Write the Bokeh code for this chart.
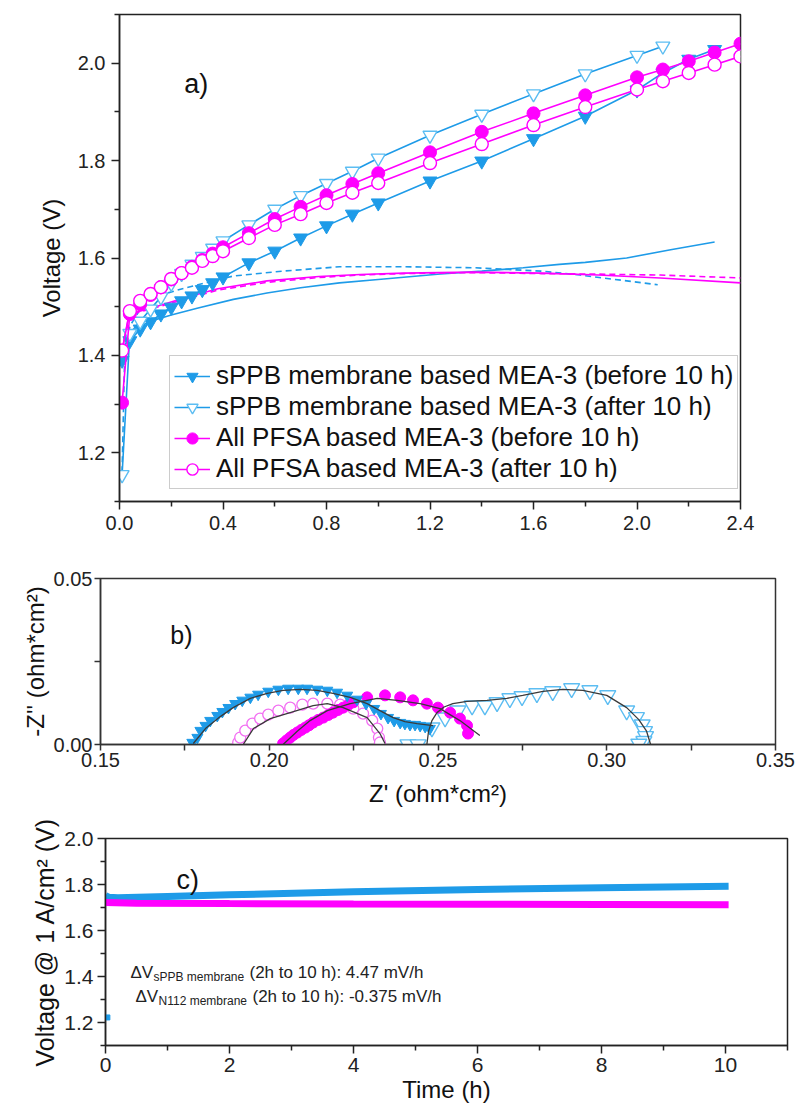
from bokeh.plotting import figure
from bokeh.models import Range1d, FixedTicker, PrintfTickFormatter, Legend, LegendItem, Label
from bokeh.embed import file_html
from bokeh.resources import INLINE

FONT = "Liberation Sans"
BLUE = "#1E9BE8"
LBLUE = "#5CBDF2"
MAG = "#FF00FF"
PINK = "#F26EF2"
FIT = "#3A3A3A"

# ---------------- panel a: polarisation curves ----------------
cur_sppb_before = [0.01, 0.04, 0.08, 0.12, 0.16, 0.2, 0.24, 0.28, 0.32, 0.36, 0.4, 0.5, 0.6, 0.7, 0.8, 0.9, 1.0,
                   1.2, 1.4, 1.6, 1.8, 2.0, 2.1, 2.2, 2.3]
v_sppb_before = [1.39, 1.43, 1.454, 1.469, 1.485, 1.499, 1.512, 1.522, 1.535, 1.549, 1.561, 1.59, 1.614, 1.641,
                 1.666, 1.69, 1.713, 1.758, 1.799, 1.845, 1.891, 1.945, 1.98, 2.008, 2.028]
cur_sppb_after = [0.01, 0.04, 0.08, 0.12, 0.16, 0.2, 0.24, 0.28, 0.32, 0.36, 0.4, 0.5, 0.6, 0.7, 0.8, 0.9, 1.0,
                  1.2, 1.4, 1.6, 1.8, 2.0, 2.1]
v_sppb_after = [1.155, 1.445, 1.47, 1.495, 1.52, 1.548, 1.568, 1.587, 1.603, 1.62, 1.635, 1.668, 1.70, 1.728,
                1.753, 1.778, 1.805, 1.852, 1.895, 1.937, 1.978, 2.016, 2.035]
cur_pfsa = [0.01, 0.04, 0.08, 0.12, 0.16, 0.2, 0.24, 0.28, 0.32, 0.36, 0.4, 0.5, 0.6, 0.7, 0.8, 0.9, 1.0,
            1.2, 1.4, 1.6, 1.8, 2.0, 2.1, 2.2, 2.3, 2.4]
v_pfsa_before = [1.303, 1.485, 1.505, 1.524, 1.54, 1.556, 1.569, 1.582, 1.596, 1.609, 1.622, 1.651, 1.68, 1.705,
                 1.729, 1.752, 1.774, 1.817, 1.859, 1.897, 1.934, 1.971, 1.987, 2.004, 2.022, 2.04]
v_pfsa_after = [1.41, 1.491, 1.512, 1.526, 1.54, 1.557, 1.569, 1.58, 1.594, 1.604, 1.614, 1.641, 1.668, 1.69,
                1.713, 1.734, 1.754, 1.795, 1.834, 1.873, 1.91, 1.946, 1.963, 1.98, 1.997, 2.014]

# corrected curves (lines without markers)
cur_corr_sppb_before = [0.01, 0.02, 0.04, 0.08, 0.12, 0.2, 0.3, 0.44, 0.57, 0.7, 0.85, 1.0, 1.24, 1.4, 1.56,
                        1.7, 1.8, 1.96, 2.13, 2.3]
v_corr_sppb_before = [1.39, 1.42, 1.44, 1.46, 1.47, 1.483, 1.497, 1.515, 1.528, 1.539, 1.549, 1.556, 1.567,
                      1.573, 1.58, 1.587, 1.591, 1.60, 1.617, 1.633]
cur_corr_sppb_after = [0.01, 0.02, 0.04, 0.08, 0.12, 0.25, 0.44, 0.63, 0.85, 1.1, 1.37, 1.63, 1.78, 1.9, 2.08]
v_corr_sppb_after = [1.16, 1.40, 1.46, 1.495, 1.518, 1.538, 1.563, 1.573, 1.582, 1.582, 1.58, 1.573, 1.565,
                     1.557, 1.545]
cur_corr_pfsa_before = [0.01, 0.035, 0.06, 0.12, 0.25, 0.38, 0.57, 0.77, 0.93, 1.1, 1.37, 1.63, 1.85, 2.09, 2.4]
v_corr_pfsa_before = [1.41, 1.48, 1.488, 1.497, 1.518, 1.537, 1.553, 1.562, 1.566, 1.569, 1.571, 1.569, 1.565,
                      1.559, 1.549]
cur_corr_pfsa_after = [0.01, 0.04, 0.08, 0.12, 0.25, 0.38, 0.57, 0.77, 0.93, 1.1, 1.37, 1.63, 1.83, 2.09, 2.4]
v_corr_pfsa_after = [1.41, 1.482, 1.49, 1.495, 1.515, 1.534, 1.55, 1.56, 1.565, 1.568, 1.57, 1.568, 1.567,
                     1.565, 1.559]

a_xticks = [0.0, 0.4, 0.8, 1.2, 1.6, 2.0, 2.4]
a_xminor = [0.2, 0.6, 1.0, 1.4, 1.8, 2.2]
a_yticks = [1.2, 1.4, 1.6, 1.8, 2.0]
a_yminor = [1.1, 1.3, 1.5, 1.7, 1.9, 2.1]
legend_labels = ["sPPB membrane based MEA-3 (before 10 h)",
                 "sPPB membrane based MEA-3 (after 10 h)",
                 "All PFSA based MEA-3 (before 10 h)",
                 "All PFSA based MEA-3 (after 10 h)"]

# ---------------- panel b: Nyquist plots ----------------
zr_sppb_before = [0.1772, 0.1787, 0.1796, 0.1811, 0.1825, 0.1846, 0.1861, 0.1879, 0.1899, 0.192, 0.1944, 0.1967,
                  0.1997, 0.2027, 0.2056, 0.2086, 0.2112, 0.2142, 0.2172, 0.2201, 0.2231, 0.226, 0.2287, 0.2311,
                  0.2331, 0.2352, 0.237, 0.2388, 0.2402, 0.2417, 0.2432, 0.2447, 0.2462, 0.2476]
zi_sppb_before = [0.0006, 0.0021, 0.0042, 0.0057, 0.0072, 0.0087, 0.0099, 0.0111, 0.0123, 0.0133, 0.0142, 0.0151,
                  0.016, 0.0166, 0.0169, 0.0169, 0.0169, 0.0166, 0.0163, 0.0157, 0.0148, 0.0136, 0.0123, 0.0108,
                  0.0093, 0.0081, 0.0072, 0.0066, 0.0063, 0.006, 0.006, 0.0057, 0.0054, 0.0048]
zr_sppb_before_fit = [0.1775, 0.1811, 0.1855, 0.1893, 0.1944, 0.1994, 0.2041, 0.2092, 0.2142, 0.2189, 0.224,
                      0.229, 0.2328, 0.2367, 0.2402, 0.2438, 0.2485]
zi_sppb_before_fit = [0.0003, 0.0048, 0.0084, 0.0111, 0.0139, 0.0154, 0.0163, 0.0166, 0.0163, 0.0154, 0.0142,
                      0.0123, 0.0102, 0.0081, 0.0069, 0.0063, 0.0057]
zr_sppb_after = [0.2411, 0.2441, 0.2482, 0.2521, 0.2559, 0.2601, 0.2639, 0.2675, 0.2713, 0.2749, 0.2793, 0.284,
                 0.2896, 0.295, 0.3003, 0.3059, 0.3088, 0.3105, 0.3112, 0.3115, 0.311, 0.3095]
zi_sppb_after = [0.0, 0.0, 0.0051, 0.0081, 0.0102, 0.0117, 0.0117, 0.0127, 0.0139, 0.0145, 0.0154, 0.016,
                 0.0169, 0.0163, 0.0148, 0.0102, 0.0082, 0.006, 0.004, 0.0025, 0.001, 0.0002]
zr_sppb_after_fit = [0.2467, 0.2472, 0.2482, 0.2497, 0.2518, 0.2544, 0.2586, 0.2645, 0.2704, 0.2751, 0.2811,
                     0.287, 0.2929, 0.3, 0.3059, 0.3095, 0.3118, 0.313]
zi_sppb_after_fit = [0.0, 0.004, 0.0072, 0.0096, 0.0113, 0.0123, 0.013, 0.0133, 0.0139, 0.0148, 0.016, 0.0166,
                     0.0163, 0.0148, 0.0111, 0.0075, 0.004, 0.0]
zr_pfsa_before = [0.2041, 0.2051, 0.2062, 0.2072, 0.2083, 0.2095, 0.2107, 0.2118, 0.213, 0.2145, 0.216, 0.2175,
                  0.2189, 0.2204, 0.2219, 0.2234, 0.2249, 0.229, 0.2343, 0.2388, 0.2426, 0.2467, 0.25, 0.2536,
                  0.2565, 0.2586, 0.2589]
zi_pfsa_before = [0.0003, 0.0012, 0.0021, 0.0029, 0.0036, 0.0044, 0.0051, 0.0058, 0.0066, 0.0074, 0.0081, 0.0089,
                  0.0096, 0.0104, 0.0111, 0.0119, 0.0127, 0.0142, 0.0148, 0.0142, 0.0133, 0.0123, 0.0111, 0.0096,
                  0.0078, 0.0057, 0.0033]
zr_pfsa_before_fit = [0.2041, 0.2083, 0.2121, 0.2172, 0.224, 0.232, 0.2379, 0.2447, 0.2506, 0.2565, 0.2624]
zi_pfsa_before_fit = [0.0, 0.004, 0.0072, 0.0102, 0.0123, 0.0139, 0.0133, 0.0123, 0.0108, 0.0072, 0.0027]
zr_pfsa_after = [0.1908, 0.1914, 0.1929, 0.195, 0.1973, 0.1997, 0.2027, 0.2062, 0.2098, 0.213, 0.2172, 0.221,
                 0.2249, 0.2278, 0.2305, 0.232, 0.2325, 0.2328]
zi_pfsa_after = [0.0006, 0.0021, 0.0042, 0.0063, 0.0078, 0.009, 0.0102, 0.0111, 0.012, 0.0123, 0.0123, 0.012,
                 0.0108, 0.0093, 0.0072, 0.0048, 0.0021, 0.0006]
zr_pfsa_after_fit = [0.1923, 0.1953, 0.2003, 0.2062, 0.213, 0.2172, 0.2219, 0.229, 0.2328, 0.2343]
zi_pfsa_after_fit = [0.0, 0.0048, 0.0078, 0.0096, 0.0117, 0.0123, 0.0111, 0.0081, 0.0033, 0.0003]

b_xticks = [0.15, 0.20, 0.25, 0.30, 0.35]
b_xminor = [0.175, 0.225, 0.275, 0.325]
b_yticks = [0.0, 0.05]
b_yminor = [0.025]

# ---------------- panel c: durability at 1 A/cm2 ----------------
t_sppb = [0.0, 0.05, 0.2, 1.0, 2.0, 4.0, 6.0, 8.0, 10.05]
v_sppb_t = [1.752, 1.745, 1.742, 1.748, 1.755, 1.768, 1.778, 1.786, 1.792]
t_pfsa = [0.0, 0.5, 2.0, 4.0, 6.0, 8.0, 10.05]
v_pfsa_t = [1.722, 1.719, 1.717, 1.715, 1.714, 1.713, 1.712]
t_first = [0.03]
v_first = [1.222]

c_xticks = [0, 2, 4, 6, 8, 10]
c_xminor = [1, 3, 5, 7, 9, 11]
c_yticks = [1.2, 1.4, 1.6, 1.8, 2.0]
c_yminor = [1.1, 1.3, 1.5, 1.7, 1.9]


def base_style(p, tick_size, lab_size, axis_col="#222222"):
    p.grid.visible = False
    p.outline_line_color = axis_col
    p.outline_line_width = 1.5
    p.background_fill_color = "white"
    p.border_fill_color = "white"
    for ax in p.axis:
        ax.axis_line_color = axis_col
        ax.axis_line_width = 1.5
        ax.major_tick_line_color = axis_col
        ax.minor_tick_line_color = axis_col
        ax.major_tick_line_width = 1.5
        ax.minor_tick_line_width = 1.5
        ax.major_tick_in = 0
        ax.minor_tick_in = 0
        ax.major_label_text_font = FONT
        ax.major_label_text_font_size = tick_size
        ax.major_label_text_color = "#222222"
        ax.axis_label_text_font = FONT
        ax.axis_label_text_font_size = lab_size
        ax.axis_label_text_font_style = "normal"
        ax.axis_label_text_color = "#111111"


# ---------------- figure a ----------------
pa = figure(width=799, height=553, x_range=Range1d(0, 2.4), y_range=Range1d(1.1, 2.1),
            output_backend="svg", toolbar_location=None,
            min_border_left=119, min_border_right=59, min_border_top=14, min_border_bottom=52)
base_style(pa, "20px", "24px")
pa.xaxis.ticker = FixedTicker(ticks=a_xticks, minor_ticks=a_xminor)
pa.yaxis.ticker = FixedTicker(ticks=a_yticks, minor_ticks=a_yminor)
pa.xaxis.formatter = PrintfTickFormatter(format="%.1f")
pa.yaxis.formatter = PrintfTickFormatter(format="%.1f")
for ax in pa.axis:
    ax.major_tick_out = 8
    ax.minor_tick_out = 5
    ax.major_label_standoff = 6
pa.yaxis.axis_label = "Voltage (V)"
pa.yaxis.axis_label_standoff = 10

pa.line(cur_corr_sppb_before, v_corr_sppb_before, color=BLUE, line_width=1.6)
pa.line(cur_corr_sppb_after, v_corr_sppb_after, color=BLUE, line_width=1.6, line_dash="6 4")
pa.line(cur_corr_pfsa_before, v_corr_pfsa_before, color=MAG, line_width=1.6)
pa.line(cur_corr_pfsa_after, v_corr_pfsa_after, color=MAG, line_width=1.6, line_dash="6 4")

l1 = pa.line(cur_sppb_before, v_sppb_before, color=BLUE, line_width=1.6)
s1 = pa.scatter(cur_sppb_before, v_sppb_before, marker="inverted_triangle", size=14,
                fill_color=BLUE, line_color=BLUE)
l2 = pa.line(cur_sppb_after, v_sppb_after, color=BLUE, line_width=1.6)
s2 = pa.scatter(cur_sppb_after, v_sppb_after, marker="inverted_triangle", size=14,
                fill_color="white", line_color=LBLUE, line_width=1.4)
l3 = pa.line(cur_pfsa, v_pfsa_before, color=MAG, line_width=1.6)
s3 = pa.scatter(cur_pfsa, v_pfsa_before, marker="circle", size=13, fill_color=MAG, line_color=MAG)
l4 = pa.line(cur_pfsa, v_pfsa_after, color=MAG, line_width=1.6)
s4 = pa.scatter(cur_pfsa, v_pfsa_after, marker="circle", size=13, fill_color="white",
                line_color=MAG, line_width=1.4)

legend = Legend(items=[LegendItem(label=legend_labels[0], renderers=[l1, s1]),
                       LegendItem(label=legend_labels[1], renderers=[l2, s2]),
                       LegendItem(label=legend_labels[2], renderers=[l3, s3]),
                       LegendItem(label=legend_labels[3], renderers=[l4, s4])],
                location=(50, 12))
legend.label_text_font = FONT
legend.label_text_font_size = "26px"
legend.label_text_color = "#111111"
legend.glyph_width = 36
legend.glyph_height = 28
legend.label_height = 28
legend.label_width = 512
legend.label_standoff = 6
legend.padding = 4
legend.spacing = 0
legend.margin = 0
legend.border_line_color = "#9A9A9A"
legend.border_line_width = 1
legend.background_fill_color = "white"
legend.background_fill_alpha = 1.0
pa.add_layout(legend, "center")

pa.add_layout(Label(x=0.25, y=1.988, text="a)", text_font=FONT, text_font_size="27px",
                    text_baseline="top", text_color="#111111"))

# ---------------- figure b ----------------
pb = figure(width=799, height=261, x_range=Range1d(0.15, 0.35), y_range=Range1d(0.0, 0.05),
            output_backend="svg", toolbar_location=None,
            min_border_left=100, min_border_right=24, min_border_top=25, min_border_bottom=70)
base_style(pb, "20px", "24px", axis_col="#333333")
pb.xaxis.ticker = FixedTicker(ticks=b_xticks, minor_ticks=b_xminor)
pb.yaxis.ticker = FixedTicker(ticks=b_yticks, minor_ticks=b_yminor)
pb.xaxis.formatter = PrintfTickFormatter(format="%.2f")
pb.yaxis.formatter = PrintfTickFormatter(format="%.2f")
for ax in pb.axis:
    ax.major_tick_out = 6
    ax.minor_tick_out = 6
    ax.major_label_standoff = 2
pb.xaxis.axis_label = "Z' (ohm*cm²)"
pb.xaxis.axis_label_standoff = 10
pb.yaxis.axis_label = "-Z'' (ohm*cm²)"
pb.yaxis.axis_label_standoff = 2

pb.scatter(zr_sppb_after, zi_sppb_after, marker="inverted_triangle", size=16, fill_color="white",
           line_color=LBLUE, line_width=1.4)
pb.scatter(zr_pfsa_after, zi_pfsa_after, marker="circle", size=11, fill_color="white",
           line_color=PINK, line_width=1.3)
pb.scatter(zr_pfsa_before, zi_pfsa_before, marker="circle", size=11, fill_color=MAG, line_color=MAG)
pb.scatter(zr_sppb_before, zi_sppb_before, marker="inverted_triangle", size=11, fill_color=BLUE,
           line_color=BLUE)
for zr, zi in [(zr_sppb_before_fit, zi_sppb_before_fit), (zr_sppb_after_fit, zi_sppb_after_fit),
               (zr_pfsa_before_fit, zi_pfsa_before_fit), (zr_pfsa_after_fit, zi_pfsa_after_fit)]:
    pb.line(zr, zi, color=FIT, line_width=1.3)

pb.add_layout(Label(x=0.1707, y=0.0373, text="b)", text_font=FONT, text_font_size="25px",
                    text_baseline="top", text_color="#111111"))

# ---------------- figure c ----------------
pc = figure(width=799, height=296, x_range=Range1d(0, 11), y_range=Range1d(1.1, 2.0),
            output_backend="svg", toolbar_location=None,
            min_border_left=105, min_border_right=12, min_border_top=24, min_border_bottom=65)
base_style(pc, "21px", "24px")
pc.xaxis.ticker = FixedTicker(ticks=c_xticks, minor_ticks=c_xminor)
pc.yaxis.ticker = FixedTicker(ticks=c_yticks, minor_ticks=c_yminor)
pc.xaxis.formatter = PrintfTickFormatter(format="%d")
pc.yaxis.formatter = PrintfTickFormatter(format="%.1f")
for ax in pc.axis:
    ax.major_tick_out = 8
    ax.minor_tick_out = 5
    ax.major_label_standoff = 4
pc.yaxis.axis_label = "Voltage @ 1 A/cm² (V)"
pc.yaxis.axis_label_text_font_size = "25px"
pc.yaxis.axis_label_standoff = 2
pc.xaxis.axis_label = "Time (h)"
pc.xaxis.axis_label_standoff = 1

pc.line(t_sppb, v_sppb_t, color=BLUE, line_width=7)
pc.line(t_pfsa, v_pfsa_t, color=MAG, line_width=7)
pc.scatter(t_first, v_first, marker="square", size=5, fill_color=BLUE, line_color=BLUE)

pc.add_layout(Label(x=1.145, y=1.885, text="c)", text_font=FONT, text_font_size="27px",
                    text_baseline="top", text_color="#111111"))

ann = [(0.403, 1.4174, "sPPB membrane", "(2h to 10 h): 4.47 mV/h", 92),
       (0.484, 1.3130, "N112 membrane", "(2h to 10 h): -0.375 mV/h", 90)]
for x0, yb, sub, rest, subw in ann:
    pc.add_layout(Label(x=x0, y=yb, text="ΔV", text_font=FONT, text_font_size="17px",
                        text_baseline="alphabetic", text_color="#222222"))
    pc.add_layout(Label(x=x0, y=yb - 0.02, x_offset=23, text=sub, text_font=FONT, text_font_size="12px",
                        text_baseline="alphabetic", text_color="#222222"))
    pc.add_layout(Label(x=x0, y=yb, x_offset=23 + subw + 4, text=rest, text_font=FONT,
                        text_font_size="17px", text_baseline="alphabetic", text_color="#222222"))

# separate roots, stacked vertically (no frame alignment between panels)
open("out.html", "w").write(file_html([pa, pb, pc], INLINE))
